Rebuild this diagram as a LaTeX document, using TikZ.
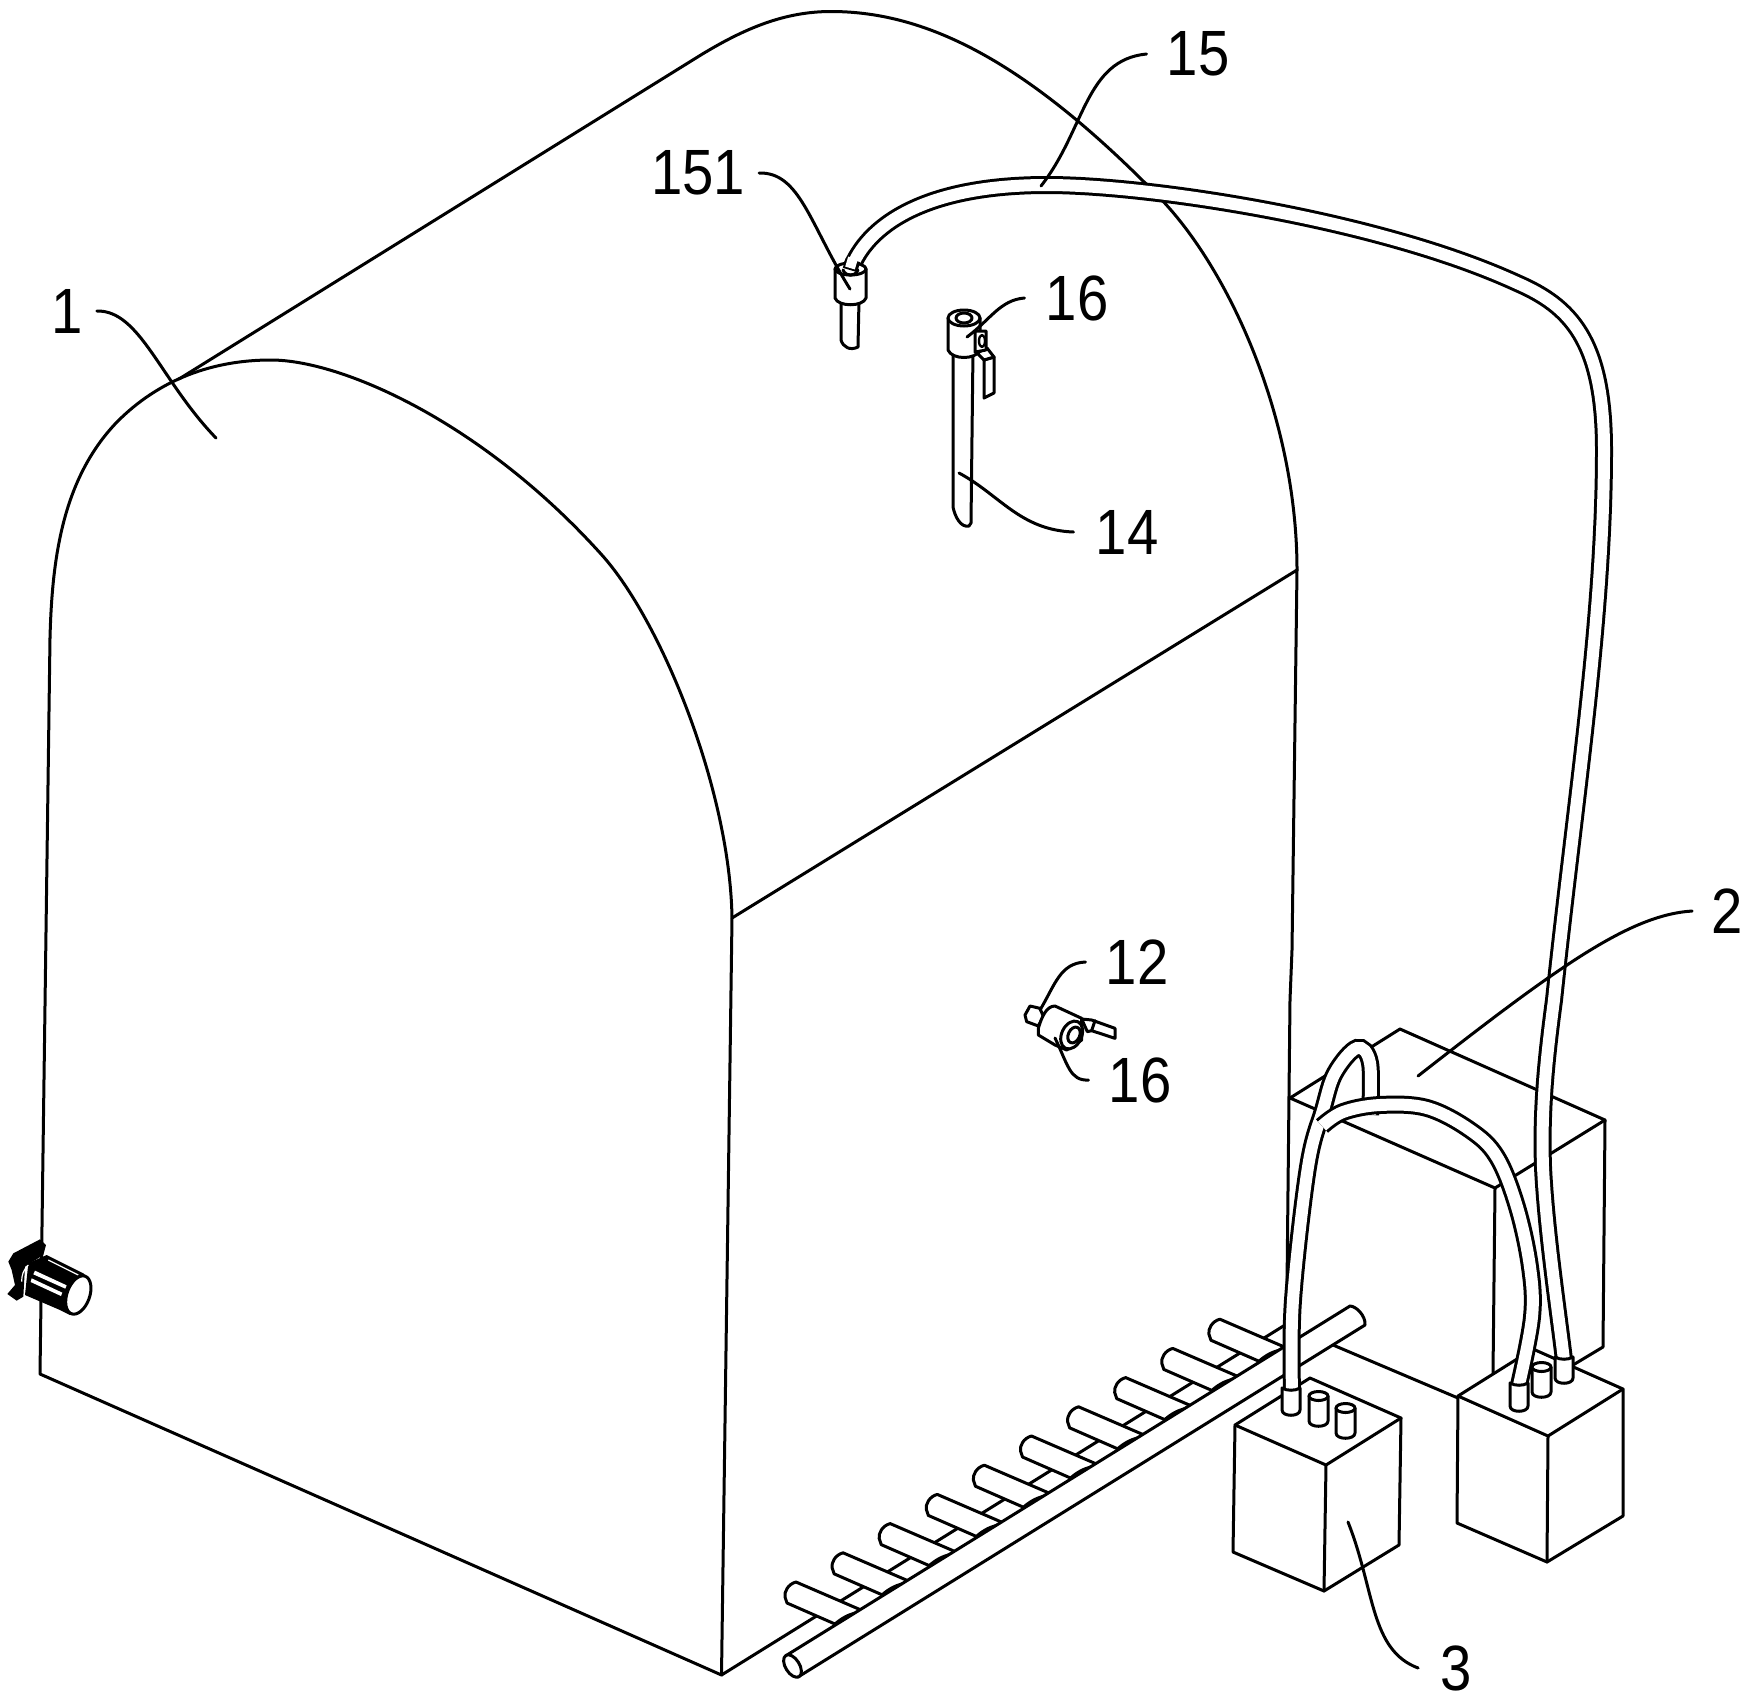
\documentclass[tikz,border=0pt]{standalone}
\usepackage{fontspec}
\setmainfont[FakeStretch=0.88]{Liberation Sans}
\tikzset{
  ln/.style={line width=3pt,line join=round,line cap=round,black},
  part/.style={ln,fill=white},
  thinln/.style={line width=2.4pt,line join=round,line cap=round,black},
  leader/.style={line width=3pt,line cap=round,black},
  lab/.style={inner sep=0pt,font=\fontsize{64}{64}\selectfont},
  tubeout/.style={line width=18pt,black},
  tubein/.style={line width=12pt,white},
}
\newcommand{\tubepath}[1]{%
  \draw[tubeout] plot[smooth,tension=.6] coordinates {#1};
  \draw[tubein] plot[smooth,tension=.6] coordinates {#1};}
\newcommand{\rawtube}[1]{%
  \draw[tubeout] #1;
  \draw[tubein] #1;}
\newcommand{\fin}[2]{%
  \begin{scope}[shift={(#1*47.1,-#1*29.2)}]
  \filldraw[part] (796,1582) .. controls (788,1584) and (784,1592) .. (785,1597) -- (787,1603) -- (835,1624)
     .. controls (842,1618) and (850,1613) .. (862,1612) -- (861,1610) -- cycle;
  \end{scope}}
\begin{document}
\begin{tikzpicture}[x=1pt,y=-1pt]
\useasboundingbox (0,0) rectangle (1754,1695);
\fill[white] (0,0) rectangle (1754,1695);
% box 2 behind
\draw[ln] (1290,1098) -- (1400,1029) -- (1605,1120) -- (1495,1188) -- cycle;
\draw[ln] (1495,1188) -- (1493,1373);
\draw[ln] (1605,1120) -- (1603,1347) -- (1573,1365);
\draw[ln] (1333,1345) -- (1458,1398);
% body
\draw[ln] (50,638) .. controls (52,560) and (62,480) .. (116,423)
  .. controls (160,378) and (215,360) .. (271,360)
  .. controls (340,360) and (480,420) .. (601,554)
  .. controls (661,620) and (730,790) .. (732,918);
\draw[ln] (50,638) -- (40,1374) -- (721.5,1675) -- (732,918);
\draw[ln] (179,379) -- (700,55.5);
\draw[ln] (700,55.5) .. controls (745,28) and (785,11.5) .. (831,11.5)
  .. controls (930,11.5) and (1030,65) .. (1159,197)
  .. controls (1230,270) and (1297,420) .. (1297,570);
\draw[ln] (732,918) -- (1297,570) -- (1292,950) -- (1290,1000) -- (1287,1285);
\draw[ln] (721.5,1675) -- (1285,1325);
% fins
\foreach \i in {0,...,9} {\fin{\i}{}}
% main pipe
\filldraw[part] (787,1655) -- (1350,1306) .. controls (1356,1306) and (1366,1316) .. (1365,1325) -- (798,1677) -- cycle;
\draw[part] (792.5,1666) ellipse[x radius=12.5,y radius=7,rotate=-58];
% right box
\filldraw[part] (1458,1396) -- (1533,1349) -- (1623,1389) -- (1623,1516) -- (1547,1562) -- (1457,1523) -- cycle;
\draw[ln] (1458,1396) -- (1548,1436) -- (1623,1389);
\draw[ln] (1548,1436) -- (1547,1562);
% left box
\filldraw[part] (1235,1425) -- (1310,1378) -- (1401,1418) -- (1399,1545) -- (1324,1591) -- (1233,1552) -- cycle;
\draw[ln] (1235,1425) -- (1326,1465) -- (1401,1418);
\draw[ln] (1326,1465) -- (1324,1591);
% stubs
\filldraw[part] (1309,1396) -- (1309,1421) .. controls (1309,1428) and (1328,1428) .. (1328,1421) -- (1328,1396);
\draw[part] (1318.5,1396) ellipse[x radius=9.5,y radius=4.5];
\filldraw[part] (1336,1408) -- (1336,1433) .. controls (1336,1440) and (1355,1440) .. (1355,1433) -- (1355,1408);
\draw[part] (1345.5,1408) ellipse[x radius=9.5,y radius=4.5];
\filldraw[part] (1532,1367) -- (1532,1392) .. controls (1532,1399) and (1551,1399) .. (1551,1392) -- (1551,1367);
\draw[part] (1541.5,1367) ellipse[x radius=9.5,y radius=4.5];
% tubes
\tubepath{(1292,1390) (1293,1300) (1308,1167) (1323,1110) (1335,1073) (1357,1048) (1370,1063) (1370,1115)}
\tubepath{(1519,1385) (1532,1317) (1530,1267) (1517,1207) (1497,1157) (1470,1130) (1427,1108) (1380,1105) (1343,1112) (1322,1126)}
\rawtube{(850,272) .. controls (862,235) and (910,185) .. (1047,185)
  .. controls (1150,185) and (1380,220) .. (1517,283)
  .. controls (1570,306) and (1604,340) .. (1604,450)
  .. controls (1604,620) and (1575,800) .. (1554,1000)
  .. controls (1546,1060) and (1541,1110) .. (1543,1167)
  .. controls (1546,1230) and (1558,1310) .. (1564,1360)}
% sleeves
\filldraw[part] (1282,1388) -- (1282,1410) .. controls (1282,1417) and (1300,1417) .. (1300,1410) -- (1300,1388) .. controls (1295,1391) and (1287,1391) .. (1282,1388) -- cycle;
\filldraw[part] (1510,1383) -- (1510,1406) .. controls (1510,1413) and (1528,1413) .. (1528,1406) -- (1528,1383) .. controls (1523,1386) and (1515,1386) .. (1510,1383) -- cycle;
\filldraw[part] (1555,1357) -- (1555,1378) .. controls (1555,1385) and (1573,1385) .. (1573,1378) -- (1573,1357) .. controls (1568,1360) and (1560,1360) .. (1555,1357) -- cycle;
% connector 151
\filldraw[part] (841,300) -- (841,340) .. controls (843,347) and (850,351) .. (858,347) -- (859,300) -- cycle;
\filldraw[part] (835,269) -- (835,298) .. controls (838,307) and (863,307) .. (866,298) -- (866,269) -- cycle;
\draw[part] (850.5,269) ellipse[x radius=15.5,y radius=6];
\draw[ln] (843,270) .. controls (846,277) and (855,277) .. (858,270);
\draw[tubeout,line width=15pt] plot[smooth] coordinates {(850,270) (853,260)};
\draw[tubein,line width=10pt] plot[smooth] coordinates {(850,268) (853,258)};
% connector 14
\filldraw[part] (953,350) -- (953,507) .. controls (955,517) and (961,528) .. (969,526) -- (971,523) -- (973,350) -- cycle;
\filldraw[part] (948,318) -- (948,350) .. controls (952,360) and (976,360) .. (980,350) -- (980,318) -- cycle;
\draw[part] (964,318) ellipse[x radius=16,y radius=8];
\draw[part] (964,318) ellipse[x radius=8,y radius=5];
\filldraw[part] (984,360) -- (994,357) -- (994,393) -- (984,398) -- cycle;
\filldraw[part] (977,353) -- (987,348) -- (994,357) -- (984,360) -- cycle;
\filldraw[part] (975,331) -- (986,331) -- (986,350) -- (975,352) -- cycle;
\draw[thinln] (982,341) ellipse[x radius=3,y radius=6];
% connector 12
\begin{scope}[shift={(1000,920)},x=.3333pt,y=-.3333pt]
\filldraw[part] (90,258) -- (120,265) -- (130,290) -- (115,318) -- (80,305) -- (75,285) -- cycle;
\filldraw[part] (115,325) .. controls (125,290) and (140,258) .. (165,258) -- (245,295) -- (245,360) -- (200,390) -- (165,375) -- (115,345) -- cycle;
\filldraw[part] (245,297) -- (275,300) -- (345,325) -- (345,355) -- (275,332) -- (262,335) -- cycle;
\draw[ln] (285,302) -- (275,332);
\draw[part] (215,345) ellipse[x radius=30,y radius=44,rotate=-25];
\draw[part] (222,345) ellipse[x radius=17,y radius=25,rotate=-25];
\end{scope}
% motor
\begin{scope}[shift={(0,1220)},x=.3333pt,y=-.3333pt]
\fill[black] (25,125) -- (40,100) -- (120,58) -- (138,75) -- (130,105) -- (75,140) -- (70,230) -- (50,242) -- (22,222) -- (45,195) -- (35,150) -- cycle;
\fill[black] (85,130) -- (140,105) -- (250,160) -- (262,170) -- (210,285) -- (180,270) -- (75,225) -- cycle;
\fill[white] (105,152) -- (200,196) -- (196,206) -- (100,163) -- cycle;
\fill[white] (95,175) -- (187,218) -- (183,228) -- (92,186) -- cycle;
\draw[white,line width=1.2pt] (145,120) -- (235,165);
\draw[white,line width=1.2pt] (85,135) .. controls (70,150) and (65,165) .. (65,185);
\filldraw[fill=white,draw=black,line width=3pt] (235,225) ellipse[x radius=34,y radius=60,rotate=-20];
\end{scope}
% labels
\node[lab] (n1) at (67,311) {1};
\node[lab] (n151) at (698,173) {151};
\node[lab] (n15) at (1198,54) {15};
\node[lab] (n16a) at (1077,298) {16};
\node[lab] (n14) at (1127,532) {14};
\node[lab] (n12) at (1137,962) {12};
\node[lab] (n16b) at (1140,1080) {16};
\node[lab] (n2) at (1727,911) {2};
\node[lab] (n3) at (1456,1668) {3};
% leaders
\draw[leader] ([xshift=14pt]n1.east) .. controls (140,310) and (160,380) .. (216,438);
\draw[leader] ([xshift=14pt]n151.east) .. controls (800,172) and (810,225) .. (850,289);
\draw[leader] ([xshift=-20pt]n15.west) .. controls (1085,60) and (1085,130) .. (1041,186);
\draw[leader] ([xshift=-21pt]n16a.west) .. controls (1000,300) and (990,320) .. (967,337);
\draw[leader] ([xshift=-22pt]n14.west) .. controls (1020,530) and (1000,495) .. (959,473);
\draw[leader] ([xshift=-20pt]n12.west) .. controls (1060,963) and (1055,985) .. (1040,1010);
\draw[leader] ([xshift=-20pt]n16b.west) .. controls (1070,1081) and (1068,1065) .. (1055,1038);
\draw[leader] ([xshift=-19pt]n2.west) .. controls (1630,915) and (1560,965) .. (1418,1076);
\draw[leader] ([xshift=-22pt]n3.west) .. controls (1370,1650) and (1375,1590) .. (1348,1522);
\end{tikzpicture}
\end{document}
